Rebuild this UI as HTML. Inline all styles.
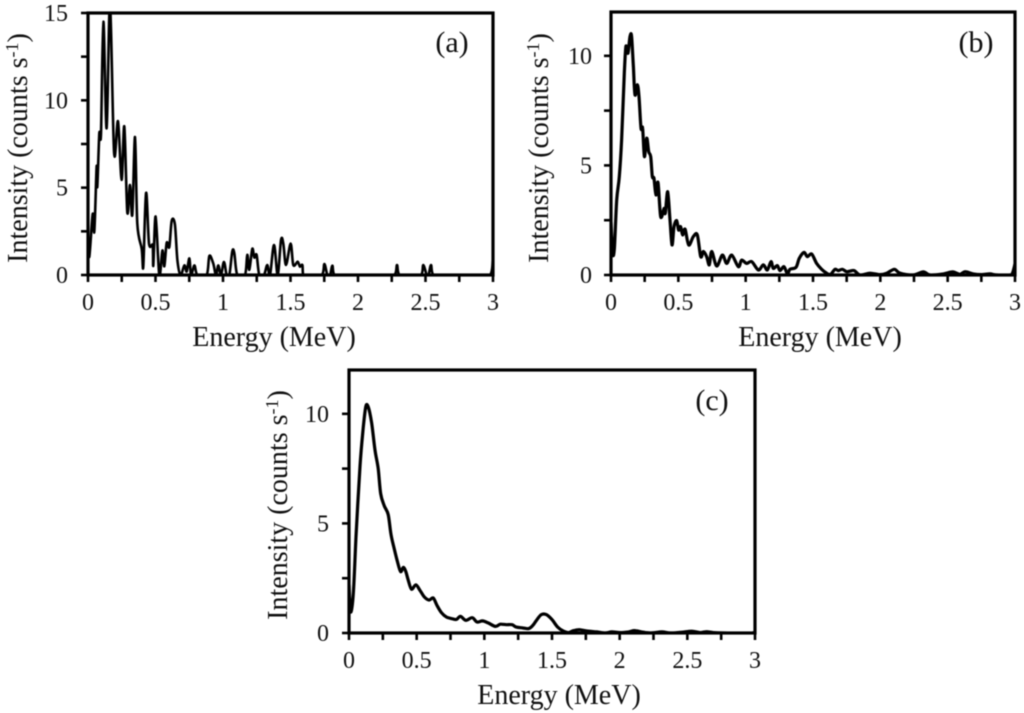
<!DOCTYPE html>
<html>
<head>
<meta charset="utf-8">
<title>Energy spectra</title>
<style>
html,body{margin:0;padding:0;background:#fff;width:1024px;height:713px;overflow:hidden}
svg{display:block;filter:blur(0.5px)}
text{font-family:"Liberation Serif",serif;fill:#111}
</style>
</head>
<body>
<svg id="chart" xmlns="http://www.w3.org/2000/svg" width="1024" height="713" viewBox="0 0 1024 713"></svg>
<script>
const xTickLabels = ["0","0.5","1","1.5","2","2.5","3"];
const yTickLabelsA = ["0","5","10","15"];
const yTickLabelsB = ["0","5","10"];
const yTickLabelsC = ["0","5","10"];

const energyA = [0,0.01,0.035,0.047,0.064,0.069,0.084,0.096,0.114,0.138,0.163,0.193,0.222,0.249,0.269,0.291,0.311,0.328,0.348,0.365,0.398,0.41,0.43,0.452,0.479,0.484,0.501,0.528,0.551,0.565,0.583,0.602,0.62,0.644,0.662,0.686,0.714,0.731,0.751,0.763,0.788,0.81,0.879,0.899,0.928,0.948,0.965,0.985,1.007,1.027,1.047,1.069,1.084,1.106,1.163,1.18,1.195,1.217,1.232,1.249,1.269,1.304,1.328,1.348,1.378,1.405,1.43,1.447,1.467,1.501,1.521,1.553,1.57,1.588,1.595,1.731,1.751,1.773,1.793,1.81,1.827,2.269,2.289,2.309,2.467,2.484,2.509,2.523,2.541,2.56,2.978,3];
const intensityA = [2.2,1.05,3.5,2.5,6.2,5.05,8.1,8.1,14.5,8.4,15.5,7,8.8,5.45,8.5,3.6,5.15,3.45,7.9,2.95,1.5,0.5,4.7,1.8,1.7,0.55,3.35,0,1.4,0.5,1.85,1.6,3.1,2.9,0.85,0,0.55,0.2,0.95,0,0.55,0,0,1.1,0.65,0,0.55,0,0.75,0,0,1.35,1.25,0,0,1.15,0.3,1.5,1,1.15,0,0,0.57,0,1.72,0,2,1.8,0.57,1.8,0.57,0.76,0.48,0.57,0,0,0.63,0,0,0.53,0,0,0.57,0,0,0.57,0,0,0.57,0,0,1];

const energyB = [0,0.012,0.025,0.042,0.062,0.079,0.099,0.111,0.126,0.141,0.153,0.166,0.178,0.196,0.208,0.223,0.235,0.248,0.265,0.28,0.295,0.307,0.319,0.334,0.349,0.369,0.394,0.403,0.421,0.438,0.453,0.468,0.488,0.502,0.517,0.532,0.55,0.577,0.611,0.641,0.666,0.686,0.71,0.73,0.748,0.785,0.827,0.859,0.896,0.946,0.97,1.007,1.045,1.094,1.131,1.161,1.188,1.205,1.235,1.255,1.285,1.31,1.329,1.374,1.398,1.433,1.458,1.49,1.527,1.564,1.601,1.631,1.663,1.688,1.718,1.75,1.775,1.807,1.849,1.923,1.997,2.047,2.104,2.146,2.245,2.319,2.369,2.468,2.537,2.591,2.629,2.69,2.752,2.814,2.864,2.963,2.982,3];
const intensityB = [2.4,0.99,1.22,3.42,4.49,6.16,9.2,10.43,10.12,10.88,10.88,9.51,8.22,8.68,8.14,6.7,6.7,5.4,6.24,5.63,5.4,4.49,4.41,3.65,4.22,2.66,3.04,2.82,3.8,2.51,1.37,2.21,2.48,2.05,2.21,1.83,2.09,1.37,1.75,1.83,0.84,1.07,0.84,0.46,1.07,0.41,0.91,0.53,0.91,0.38,0.68,0.53,0.61,0.23,0.46,0.23,0.61,0.3,0.43,0.2,0.38,0.05,0.26,0.35,0.76,1.03,0.84,0.96,0.53,0.26,0.08,0.03,0.26,0.2,0.26,0.15,0.18,0.2,0,0.08,0.02,0.08,0.26,0.08,0,0.14,0,0.05,0.14,0.03,0.15,0.05,0.02,0.05,0,0,0.1,0.5];

const energyC = [0,0.012,0.032,0.052,0.081,0.106,0.125,0.143,0.167,0.192,0.216,0.234,0.261,0.29,0.31,0.334,0.356,0.381,0.401,0.42,0.438,0.462,0.494,0.524,0.556,0.592,0.622,0.651,0.683,0.72,0.764,0.794,0.824,0.863,0.91,0.946,0.986,1.028,1.082,1.118,1.163,1.205,1.236,1.286,1.327,1.359,1.389,1.421,1.458,1.5,1.542,1.586,1.623,1.66,1.704,1.758,1.832,1.893,1.942,2.004,2.065,2.109,2.163,2.225,2.311,2.372,2.446,2.532,2.594,2.643,2.692,2.766,2.98,3];
const intensityC = [2.2,0.96,1.8,4.4,7.6,9.4,10.35,10.3,9.6,8.35,7.5,6.35,5.8,5.4,4.5,3.85,3.3,2.8,3,2.8,2.4,2,2.2,1.95,1.65,1.5,1.6,1.25,0.93,0.73,0.65,0.62,0.76,0.58,0.7,0.5,0.55,0.46,0.3,0.4,0.38,0.38,0.27,0.23,0.2,0.35,0.61,0.84,0.84,0.61,0.27,0.08,0.02,0.11,0.15,0.09,0.05,0,0.05,0.02,0.05,0.11,0.05,0,0.05,0,0.03,0.08,0.02,0.06,0.02,0,0,0.05];

const svg = document.getElementById('chart');
const NS = 'http://www.w3.org/2000/svg';

function make(tag, attrs, parent, label, text) {
  const el = document.createElementNS(NS, tag);
  for (const k in attrs) el.setAttribute(k, attrs[k]);
  
  
  if (text !== undefined) el.textContent = text;
  parent.appendChild(el);
  return el;
}

// Smooth curve through the points (Excel-style spline), control x kept within each segment.
function smoothPath(xs, ys) {
  let d = 'M' + xs[0].toFixed(1) + ' ' + ys[0].toFixed(1);
  const k = 0.16;
  for (let i = 0; i < xs.length - 1; i++) {
    const p0 = Math.max(i - 1, 0), p3 = Math.min(i + 2, xs.length - 1);
    const c1x = Math.min(xs[i] + (xs[i + 1] - xs[p0]) * k, xs[i + 1]);
    const c1y = ys[i] + (ys[i + 1] - ys[p0]) * k;
    const c2x = Math.max(xs[i + 1] - (xs[p3] - xs[i]) * k, xs[i]);
    const c2y = ys[i + 1] - (ys[p3] - ys[i]) * k;
    d += 'C' + c1x.toFixed(1) + ' ' + c1y.toFixed(1) + ' ' + c2x.toFixed(1) + ' ' + c2y.toFixed(1) + ' ' + xs[i + 1].toFixed(1) + ' ' + ys[i + 1].toFixed(1);
  }
  return d;
}

function drawPanel(p) {
  const g = make('g', {}, svg, 'panel-' + p.id);
  const xScale = v => p.left + (v / p.xMax) * (p.right - p.left);
  const yScale = v => p.bottom - (v / p.yMax) * (p.bottom - p.top);

  for (let v = 0; v <= p.yMax + 1e-6; v += p.yStep / 2) {
    make('line', {x1: p.left - 7, x2: p.left, y1: yScale(v), y2: yScale(v), stroke: '#000', 'stroke-width': 2.6}, g, 'y-tick-' + p.id);
  }
  p.yLabels.forEach(t => {
    make('text', {x: p.left - p.yLabelGap, y: yScale(+t) + 8, 'text-anchor': 'end', 'font-size': 24}, g, 'y-tick-label-' + p.id, t);
  });
  for (let v = 0; v <= p.xMax + 1e-6; v += 0.25) {
    make('line', {x1: xScale(v), x2: xScale(v), y1: p.bottom, y2: p.bottom + 7, stroke: '#000', 'stroke-width': 2.6}, g, 'x-tick-' + p.id);
  }
  xTickLabels.forEach(t => {
    make('text', {x: xScale(+t), y: p.bottom + 35, 'text-anchor': 'middle', 'font-size': 24}, g, 'x-tick-label-' + p.id, t);
  });

  const clipId = 'clip-' + p.id;
  const clip = make('clipPath', {id: clipId}, g, 'plot-clip-' + p.id);
  make('rect', {x: p.left, y: p.top, width: p.right - p.left, height: p.bottom - p.top}, clip, 'plot-clip-rect-' + p.id);
  const d = smoothPath(p.energy.map(xScale), p.intensity.map(yScale));
  make('path', {d: d, fill: 'none', stroke: '#000', 'stroke-width': p.lineWidth, 'stroke-linejoin': 'round', 'stroke-linecap': 'round', 'clip-path': 'url(#' + clipId + ')'}, g, 'spectrum-line-' + p.id);

  make('rect', {x: p.left, y: p.top, width: p.right - p.left, height: p.bottom - p.top, fill: 'none', stroke: '#000', 'stroke-width': 3.2}, g, 'plot-frame-' + p.id);

  make('text', {x: p.xTitleX, y: p.bottom + 71, 'text-anchor': 'middle', 'font-size': 28}, g, 'x-axis-title-' + p.id, 'Energy (MeV)');
  const yt = make('text', {transform: 'translate(' + p.yTitleX + ',' + p.yTitleY + ') rotate(-90)', 'text-anchor': 'middle', 'font-size': 28}, g, 'y-axis-title-' + p.id);
  make('tspan', {}, yt, 'y-axis-title-main-' + p.id, 'Intensity (counts s');
  make('tspan', {dy: -9, 'font-size': 18}, yt, 'y-axis-title-exponent-' + p.id, '-1');
  make('tspan', {dy: 9}, yt, 'y-axis-title-close-' + p.id, ')');

  make('text', {x: p.tagX, y: p.tagY, 'text-anchor': 'middle', 'font-size': 30}, g, 'panel-label-' + p.id, '(' + p.id + ')');
}

drawPanel({id: 'a', left: 88, right: 493, top: 13, bottom: 275, xMax: 3, yMax: 15, yStep: 5,
  yLabels: yTickLabelsA, energy: energyA, intensity: intensityA, lineWidth: 2.6,
  yLabelGap: 20, yTitleX: 27, yTitleY: 148, tagX: 452, tagY: 52, xTitleX: 274});
drawPanel({id: 'b', left: 611, right: 1015, top: 12, bottom: 275, xMax: 3, yMax: 12, yStep: 5,
  yLabels: yTickLabelsB, energy: energyB, intensity: intensityB, lineWidth: 3.2,
  yLabelGap: 19, yTitleX: 548, yTitleY: 148, tagX: 976, tagY: 52, xTitleX: 820});
drawPanel({id: 'c', left: 349, right: 755, top: 370, bottom: 633, xMax: 3, yMax: 12, yStep: 5,
  yLabels: yTickLabelsC, energy: energyC, intensity: intensityC, lineWidth: 3.2,
  yLabelGap: 20, yTitleX: 287, yTitleY: 505, tagX: 712, tagY: 410, xTitleX: 559});
</script>
</body>
</html>
